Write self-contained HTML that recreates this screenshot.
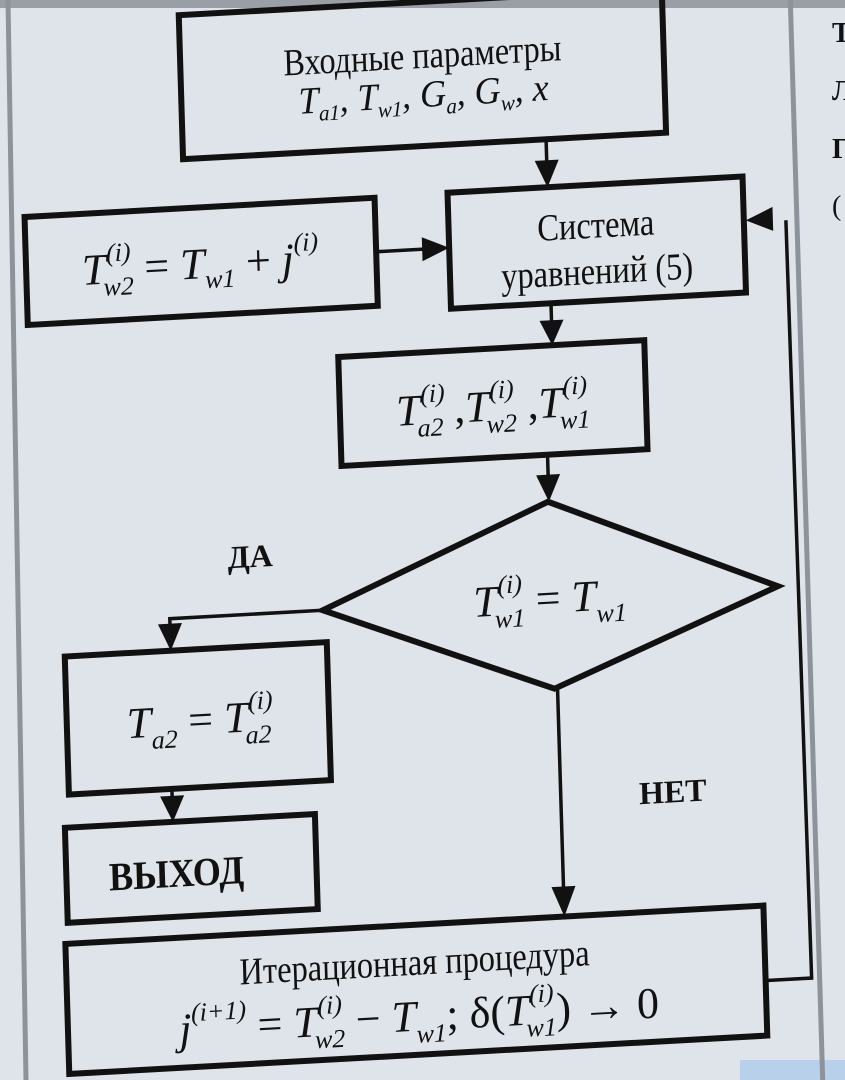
<!DOCTYPE html>
<html><head><meta charset="utf-8"><style>
html,body{margin:0;padding:0;background:#dfe3ea;width:845px;height:1080px;overflow:hidden;}
svg{display:block;}
text{font-family:"Liberation Serif",serif;fill:#111;}
.m{font-style:italic;}
</style></head><body>
<svg width="845" height="1080" viewBox="0 0 845 1080" xmlns="http://www.w3.org/2000/svg">
<rect width="845" height="1080" fill="#dfe3ea"/>
<rect x="0" y="0" width="845" height="8" fill="#9a9ea6"/>
<line x1="8" y1="0" x2="26" y2="1080" stroke="#8e939b" stroke-width="5"/>
<rect x="740" y="1060" width="105" height="20" fill="#b9d0ea"/>
<text x="832" y="42" font-size="28" font-weight="bold">Т</text>
<text x="832" y="100" font-size="28" font-weight="bold">Л</text>
<text x="832" y="158" font-size="28" font-weight="bold">Г</text>
<text x="832" y="215" font-size="28">(</text>
<g transform="matrix(1,-0.055,0.03,1,0,0)">
<line x1="789" y1="-60" x2="789" y2="1150" stroke="#8e939b" stroke-width="5"/>
<g fill="none" stroke="#111" stroke-width="6">
<rect x="178" y="25" width="483" height="144"/>
<rect x="441" y="217" width="295" height="116"/>
<rect x="18" y="218" width="350" height="108"/>
<rect x="327" y="375" width="306" height="109"/>
<polygon points="532,531 759,628 533,718 304,627"/>
<rect x="45" y="659" width="262" height="138"/>
<rect x="40" y="830" width="250" height="95"/>
<rect x="37" y="946" width="698" height="130"/>
</g>
<g stroke="#111" stroke-width="3.5" fill="none">
<line x1="541" y1="169" x2="541" y2="195"/>
<line x1="368" y1="272" x2="420" y2="272"/>
<line x1="541" y1="333" x2="541" y2="352"/>
<line x1="533" y1="484" x2="533" y2="508"/>
<polyline points="304,627 151,627 151,636"/>
<line x1="148" y1="797" x2="148" y2="808"/>
<line x1="536" y1="718" x2="536" y2="920"/>
<polyline points="736,1021 781,1021 778,263"/>
</g>
<g fill="#111">
<polygon points="529,190 553,190 541,217"/>
<polygon points="414,260 414,284 441,272"/>
<polygon points="529,350 553,350 541,375"/>
<polygon points="521,504 545,504 533,531"/>
<polygon points="139,632 163,632 151,659"/>
<polygon points="136,804 160,804 148,830"/>
<polygon points="524,916 548,916 536,946"/>
<polygon points="765,249 765,273 738,261"/>
</g>
<text x="420" y="91" font-size="38" text-anchor="middle" textLength="278" lengthAdjust="spacingAndGlyphs">Входные параметры</text>
<text x="420" y="130" font-size="38" text-anchor="middle" class="m" textLength="250" lengthAdjust="spacingAndGlyphs">T<tspan font-size="22" dy="8">a1</tspan><tspan dy="-8">, T</tspan><tspan font-size="22" dy="8">w1</tspan><tspan dy="-8">, G</tspan><tspan font-size="22" dy="8">a</tspan><tspan dy="-8">, G</tspan><tspan font-size="22" dy="8">w</tspan><tspan dy="-8">, x</tspan></text>
<text x="588" y="270" font-size="38" text-anchor="middle" textLength="117" lengthAdjust="spacingAndGlyphs">Система</text>
<text x="588" y="316" font-size="38" text-anchor="middle" textLength="192" lengthAdjust="spacingAndGlyphs">уравнений (5)</text>
<text x="192" y="289" font-size="44" text-anchor="middle" class="m">T<tspan font-size="26" dy="-22">(i)</tspan><tspan font-size="26" dx="-28" dy="34">w2</tspan><tspan font-style="normal" dy="-12"> = </tspan>T<tspan font-size="26" dy="10">w1</tspan><tspan font-style="normal" dy="-10"> + </tspan>j<tspan font-size="26" dy="-22">(i)</tspan></text>
<text x="480" y="447" font-size="44" text-anchor="middle" class="m">T<tspan font-size="26" dy="-22">(i)</tspan><tspan font-size="26" dx="-28" dy="34">a2</tspan><tspan font-style="normal" dy="-12"> ,</tspan>T<tspan font-size="26" dy="-22">(i)</tspan><tspan font-size="26" dx="-28" dy="34">w2</tspan><tspan font-style="normal" dy="-12"> ,</tspan>T<tspan font-size="26" dy="-22">(i)</tspan><tspan font-size="26" dx="-28" dy="34">w1</tspan></text>
<text x="531" y="642" font-size="44" text-anchor="middle" class="m">T<tspan font-size="26" dy="-22">(i)</tspan><tspan font-size="26" dx="-28" dy="34">w1</tspan><tspan font-style="normal" dy="-12"> = </tspan>T<tspan font-size="26" dy="12">w1</tspan></text>
<text x="233" y="580" font-size="32" font-weight="bold" text-anchor="middle">ДА</text>
<text x="648" y="838" font-size="32" font-weight="bold" text-anchor="middle">НЕТ</text>
<text x="178" y="744" font-size="44" text-anchor="middle" class="m">T<tspan font-size="26" dy="12">a2</tspan><tspan font-style="normal" dy="-12"> = </tspan>T<tspan font-size="26" dy="-22">(i)</tspan><tspan font-size="26" dx="-28" dy="34">a2</tspan></text>
<text x="150" y="895" font-size="40" font-weight="bold" text-anchor="middle" textLength="135" lengthAdjust="spacingAndGlyphs">ВЫХОД</text>
<text x="385" y="996" font-size="38" text-anchor="middle" textLength="350" lengthAdjust="spacingAndGlyphs">Итерационная  процедура</text>
<text x="388" y="1052" font-size="44" text-anchor="middle" class="m">j<tspan font-size="26" dy="-22">(i+1)</tspan><tspan font-style="normal" dy="22"> = </tspan>T<tspan font-size="26" dy="-22">(i)</tspan><tspan font-size="26" dx="-28" dy="34">w2</tspan><tspan font-style="normal" dy="-12"> − </tspan>T<tspan font-size="26" dy="12">w1</tspan><tspan font-style="normal" dy="-12">; δ(</tspan>T<tspan font-size="26" dy="-22">(i)</tspan><tspan font-size="26" dx="-28" dy="34">w1</tspan><tspan font-style="normal" dy="-12">) → 0</tspan></text>
</g>
</svg>
</body></html>
